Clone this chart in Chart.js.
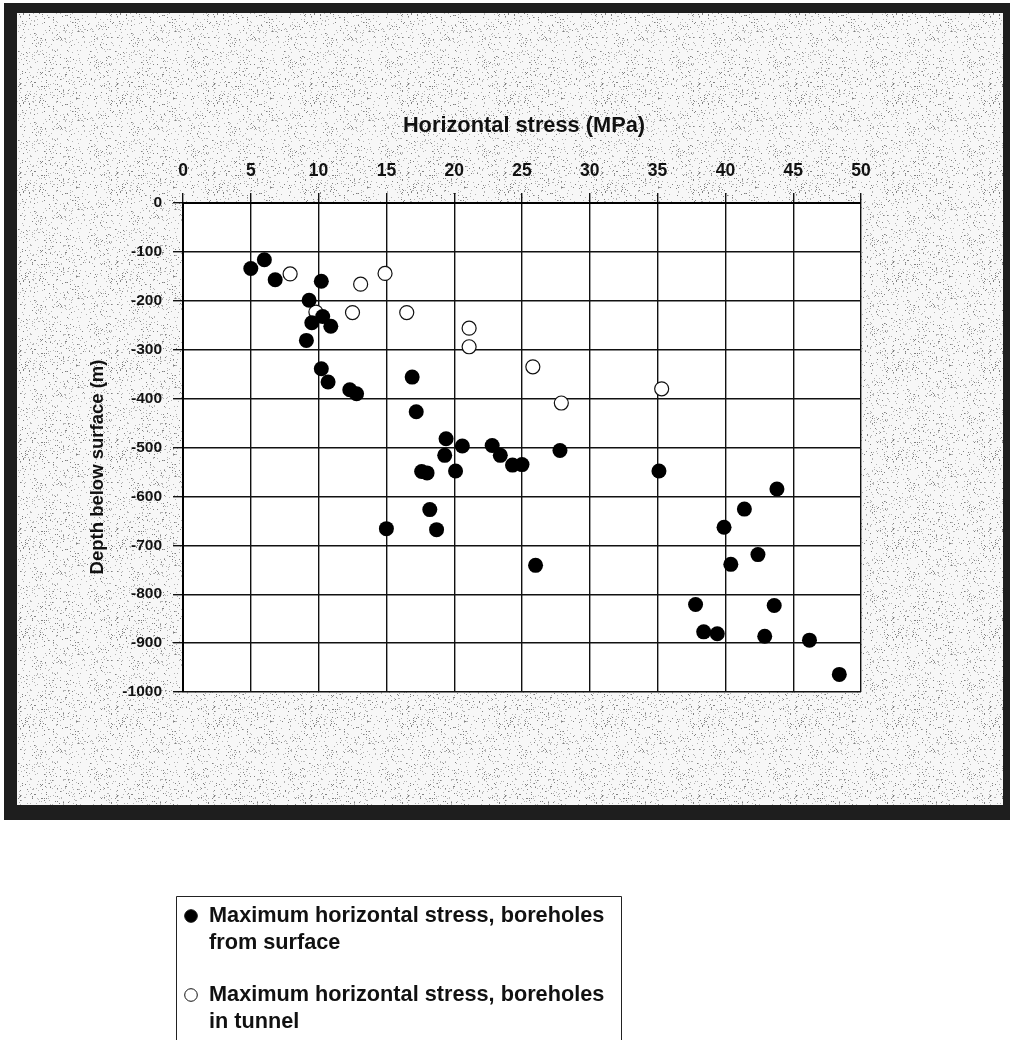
<!DOCTYPE html>
<html>
<head>
<meta charset="utf-8">
<title>Horizontal stress vs depth</title>
<script src="https://cdn.jsdelivr.net/npm/chart.js@4/dist/chart.umd.min.js"></script>
<style>
  html, body { margin: 0; padding: 0; background: #ffffff; }
  canvas { display: block; }
</style>
</head>
<body>
<canvas id="c" width="1010" height="1040"></canvas>
<script>
// Maximum horizontal stress (MPa) and depth (m), boreholes drilled from the surface
const surfaceStress = [5.0, 6.0, 6.8, 10.2, 9.3, 10.3, 9.5, 10.9, 9.1, 10.2, 10.7, 12.3, 12.8, 16.9, 17.2,
  19.4, 20.6, 19.3, 20.1, 17.6, 18.0, 18.2, 18.7, 15.0, 22.8, 23.4, 24.3, 25.0, 27.8, 26.0,
  35.1, 43.8, 41.4, 39.9, 42.4, 40.4, 37.8, 43.6, 38.4, 39.4, 42.9, 46.2, 48.4];
const surfaceDepth = [-134, -116, -157, -160, -199, -232, -245, -252, -281, -339, -366, -382, -390, -356, -427,
  -482, -497, -516, -548, -549, -552, -627, -668, -666, -496, -516, -536, -535, -506, -741,
  -548, -585, -626, -663, -719, -739, -821, -823, -877, -881, -886, -894, -964];

// Boreholes drilled from the tunnel
const tunnelStress = [7.9, 14.9, 13.1, 9.8, 12.5, 16.5, 21.1, 21.1, 25.8, 27.9, 35.3];
const tunnelDepth = [-145, -144, -166, -223, -224, -224, -256, -294, -335, -409, -380];

// Axis ranges and tick spacing
const stressTicks = { min: 0, max: 50, step: 5 };
const depthTicks = { min: -1000, max: 0, step: 100 };

const xTitle = 'Horizontal stress (MPa)';
const yTitle = 'Depth below surface (m)';
const legendSurface = ['Maximum horizontal stress, boreholes', 'from surface'];
const legendTunnel = ['Maximum horizontal stress, boreholes', 'in tunnel'];

const FONT = '"Liberation Sans", Arial, Helvetica, sans-serif';

function zip(xs, ys) { return xs.map((x, i) => ({ x: x, y: ys[i] })); }

// Grey halftone tile used for the panel behind the plot
function makeStipple() {
  const t = document.createElement('canvas');
  t.width = 97; t.height = 89;
  const g = t.getContext('2d');
  g.fillStyle = '#f7f7f7';
  g.fillRect(0, 0, t.width, t.height);
  for (let y = 0; y < t.height; y++) {
    for (let x = 0; x < t.width; x++) {
      let h = Math.imul(x + 11, 374761393) ^ Math.imul(y + 7, 668265263);
      h = Math.imul(h ^ (h >>> 13), 1274126177);
      h = (h ^ (h >>> 16)) >>> 0;
      const v = h % 1000;
      if (v < 80) {
        g.fillStyle = v < 25 ? '#808080' : '#b4b4b4';
        g.fillRect(x, y, 1, 1);
      }
    }
  }
  return t;
}

const panelPlugin = {
  id: 'panel',
  beforeDraw(chart) {
    const ctx = chart.ctx;
    const a = chart.chartArea;
    ctx.save();
    ctx.fillStyle = '#ffffff';
    ctx.fillRect(0, 0, chart.width, chart.height);
    // dark frame
    ctx.fillStyle = '#1e1e1e';
    ctx.fillRect(4, 3, 1006, 817);
    // stippled panel
    ctx.fillStyle = ctx.createPattern(makeStipple(), 'repeat');
    ctx.fillRect(17, 13, 986, 792);
    // plot area
    ctx.fillStyle = '#ffffff';
    ctx.fillRect(a.left, a.top, a.right - a.left, a.bottom - a.top);
    ctx.restore();
  },
  afterDraw(chart) {
    const ctx = chart.ctx;
    const a = chart.chartArea;
    ctx.save();
    ctx.fillStyle = '#111111';
    // x axis title
    ctx.font = 'bold 21.8px ' + FONT;
    ctx.textAlign = 'center';
    ctx.textBaseline = 'middle';
    ctx.fillText(xTitle, (a.left + a.right) / 2 + 2, 126);
    // y axis title
    ctx.font = 'bold 18.5px ' + FONT;
    ctx.translate(98, 467);
    ctx.rotate(-Math.PI / 2);
    ctx.fillText(yTitle, 0, 0);
    ctx.restore();

    // legend box
    ctx.save();
    ctx.strokeStyle = '#222222';
    ctx.lineWidth = 1;
    ctx.beginPath();
    ctx.moveTo(176.5, 1040);
    ctx.lineTo(176.5, 896.5);
    ctx.lineTo(621.5, 896.5);
    ctx.lineTo(621.5, 1040);
    ctx.stroke();

    const ds = chart.data.datasets;
    const entries = [
      { lines: legendSurface, y: 916, d: ds[0] },
      { lines: legendTunnel, y: 995, d: ds[1] }
    ];
    ctx.font = 'bold 21.7px ' + FONT;
    ctx.textAlign = 'left';
    ctx.textBaseline = 'middle';
    entries.forEach(e => {
      ctx.beginPath();
      ctx.arc(191, e.y, 6.3, 0, Math.PI * 2);
      ctx.fillStyle = e.d.backgroundColor;
      ctx.fill();
      ctx.lineWidth = 1;
      ctx.strokeStyle = '#111111';
      ctx.stroke();
      ctx.fillStyle = '#111111';
      e.lines.forEach((ln, i) => ctx.fillText(ln, 209, e.y + i * 27));
    });
    ctx.restore();
  }
};

const plainNumber = v => String(v);

new Chart(document.getElementById('c'), {
  type: 'scatter',
  data: {
    datasets: [
      {
        label: legendSurface.join(' '),
        data: zip(surfaceStress, surfaceDepth),
        pointRadius: 7.5,
        pointHoverRadius: 7.5,
        backgroundColor: '#000000',
        borderColor: '#000000',
        borderWidth: 0
      },
      {
        label: legendTunnel.join(' '),
        data: zip(tunnelStress, tunnelDepth),
        pointRadius: 7,
        pointHoverRadius: 7,
        backgroundColor: '#ffffff',
        borderColor: '#111111',
        borderWidth: 1.2
      }
    ]
  },
  options: {
    responsive: false,
    animation: false,
    devicePixelRatio: 1,
    layout: { padding: { top: 0, left: 0, right: 149, bottom: 348 } },
    plugins: { legend: { display: false }, tooltip: { enabled: false } },
    scales: {
      x: {
        type: 'linear',
        position: 'top',
        min: stressTicks.min,
        max: stressTicks.max,
        ticks: {
          stepSize: stressTicks.step,
          font: { family: FONT, size: 17.5, weight: 'bold' },
          color: '#111111',
          padding: 11,
          callback: plainNumber
        },
        grid: { color: '#111111', lineWidth: 1.4, tickLength: 10, drawTicks: true },
        border: { color: '#000000', width: 2 },
        afterFit(s) { s.height = 203; }
      },
      y: {
        type: 'linear',
        min: depthTicks.min,
        max: depthTicks.max,
        ticks: {
          stepSize: depthTicks.step,
          font: { family: FONT, size: 15.5, weight: 'bold' },
          color: '#111111',
          padding: 11,
          callback: plainNumber
        },
        grid: { color: '#111111', lineWidth: 1.4, tickLength: 10, drawTicks: true },
        border: { color: '#000000', width: 2 },
        afterFit(s) { s.width = 183; }
      }
    }
  },
  plugins: [panelPlugin]
});
</script>
</body>
</html>
